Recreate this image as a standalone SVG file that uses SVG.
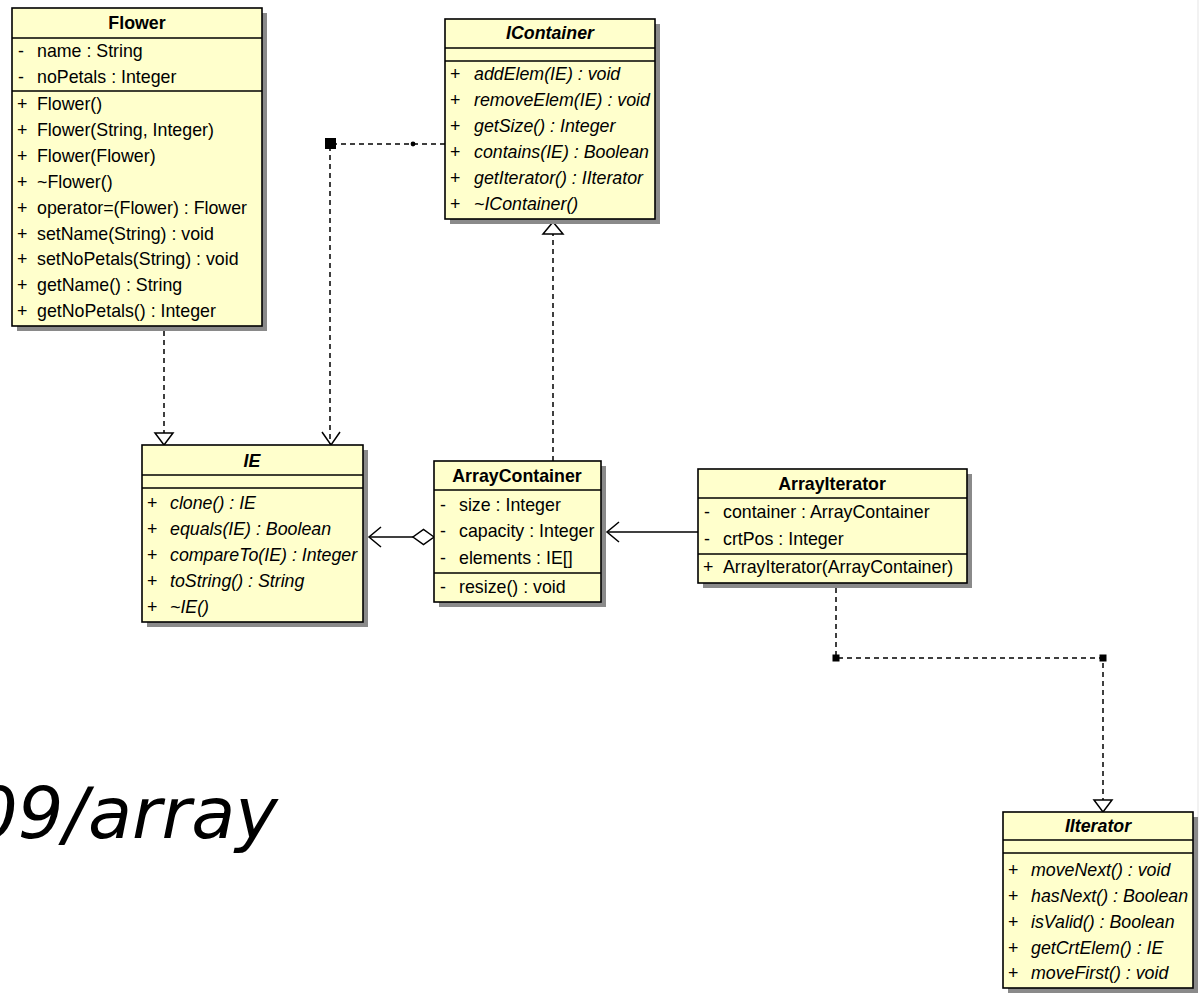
<svg xmlns="http://www.w3.org/2000/svg" width="1200" height="999" viewBox="0 0 1200 999">
<style>
.box{fill:#ffffcc;stroke:#000;stroke-width:1.6}
.shadow{fill:#8a8a8a}
.sep{stroke:#000;stroke-width:1.6}
text{font-family:"Liberation Sans",Arial,sans-serif;font-size:17.8px;fill:#000}
.t{font-weight:bold;text-anchor:middle}
.ti{font-weight:bold;font-style:italic;text-anchor:middle}
.i{font-style:italic}
.dash{fill:none;stroke:#000;stroke-width:1.5;stroke-dasharray:5,4}
.solid{fill:none;stroke:#000;stroke-width:1.5}
.tri{fill:#fff;stroke:#000;stroke-width:1.5}
.big{font-family:"DejaVu Sans",Verdana,sans-serif;font-style:italic;font-size:72px}
</style>
<rect width="1200" height="999" fill="#fff"/>
<line x1="1198" y1="0" x2="1198" y2="930" stroke="#eeeeee" stroke-width="1.5"/>

<g id="connectors">
  <!-- Flower realizes IE -->
  <line class="dash" x1="164" y1="331" x2="164" y2="433"/>
  <polygon class="tri" points="155,433 173,433 164,445"/>
  <!-- IContainer depends on IE -->
  <polyline class="dash" points="445,144 330,144 330,444"/>
  <rect x="325" y="138" width="11" height="11" fill="#000"/>
  <circle cx="413" cy="144" r="2.4" fill="#000"/>
  <polyline class="solid" points="322,432 331,445 340,432"/>
  <!-- ArrayContainer realizes IContainer -->
  <line class="dash" x1="553" y1="461" x2="553" y2="234"/>
  <polygon class="tri" points="543,234 563,234 553,222"/>
  <!-- Aggregation ArrayContainer -> IE -->
  <line class="solid" x1="413" y1="537" x2="369" y2="537"/>
  <polygon class="tri" points="434,537 423.5,529.5 413,537 423.5,544.5"/>
  <polyline class="solid" points="381,527 369,537 381,547"/>
  <!-- Association ArrayIterator -> ArrayContainer -->
  <line class="solid" x1="698" y1="532" x2="607" y2="532"/>
  <polyline class="solid" points="619,522 607,532 619,542"/>
  <!-- ArrayIterator realizes Iterator -->
  <polyline class="dash" points="836,588 836,658 1103,658 1103,800"/>
  <rect x="832.5" y="654.5" width="7" height="7" fill="#000"/>
  <rect x="1099.5" y="654.5" width="7" height="7" fill="#000"/>
  <polygon class="tri" points="1094,800 1112,800 1103,812"/>
</g>

<g id="Flower">
  <rect class="shadow" x="17" y="13" width="250" height="318"/>
  <rect class="box" x="12" y="8" width="250" height="318"/>
  <line class="sep" x1="12" y1="38" x2="262" y2="38"/>
  <line class="sep" x1="12" y1="91" x2="262" y2="91"/>
  <text class="t" x="137" y="29">Flower</text>
  <text x="18" y="57">-</text><text x="37" y="57">name : String</text>
  <text x="18" y="83">-</text><text x="37" y="83">noPetals : Integer</text>
  <text x="17" y="110">+</text><text x="37" y="110">Flower()</text>
  <text x="17" y="136">+</text><text x="37" y="136">Flower(String, Integer)</text>
  <text x="17" y="162">+</text><text x="37" y="162">Flower(Flower)</text>
  <text x="17" y="188">+</text><text x="37" y="188">~Flower()</text>
  <text x="17" y="214">+</text><text x="37" y="214">operator=(Flower) : Flower</text>
  <text x="17" y="240">+</text><text x="37" y="240">setName(String) : void</text>
  <text x="17" y="265">+</text><text x="37" y="265">setNoPetals(String) : void</text>
  <text x="17" y="291">+</text><text x="37" y="291">getName() : String</text>
  <text x="17" y="317">+</text><text x="37" y="317">getNoPetals() : Integer</text>
</g>

<g id="IContainer">
  <rect class="shadow" x="450" y="24" width="210" height="200"/>
  <rect class="box" x="445" y="19" width="210" height="200"/>
  <line class="sep" x1="445" y1="48" x2="655" y2="48"/>
  <line class="sep" x1="445" y1="61" x2="655" y2="61"/>
  <text class="ti" x="550" y="39">IContainer</text>
  <text x="450" y="80">+</text><text class="i" x="474" y="80">addElem(IE) : void</text>
  <text x="450" y="106">+</text><text class="i" x="474" y="106">removeElem(IE) : void</text>
  <text x="450" y="132">+</text><text class="i" x="474" y="132">getSize() : Integer</text>
  <text x="450" y="158">+</text><text class="i" x="474" y="158">contains(IE) : Boolean</text>
  <text x="450" y="184">+</text><text class="i" x="474" y="184">getIterator() : IIterator</text>
  <text x="450" y="210">+</text><text class="i" x="474" y="210">~IContainer()</text>
</g>

<g id="IE">
  <rect class="shadow" x="147" y="450" width="221" height="177"/>
  <rect class="box" x="142" y="445" width="221" height="177"/>
  <line class="sep" x1="142" y1="475" x2="363" y2="475"/>
  <line class="sep" x1="142" y1="488" x2="363" y2="488"/>
  <text class="ti" x="252" y="467">IE</text>
  <text x="147" y="509">+</text><text class="i" x="170" y="509">clone() : IE</text>
  <text x="147" y="535">+</text><text class="i" x="170" y="535">equals(IE) : Boolean</text>
  <text x="147" y="561">+</text><text class="i" x="170" y="561">compareTo(IE) : Integer</text>
  <text x="147" y="587">+</text><text class="i" x="170" y="587">toString() : String</text>
  <text x="147" y="613">+</text><text class="i" x="170" y="613">~IE()</text>
</g>

<g id="ArrayContainer">
  <rect class="shadow" x="439" y="466" width="167" height="141"/>
  <rect class="box" x="434" y="461" width="167" height="141"/>
  <line class="sep" x1="434" y1="490" x2="601" y2="490"/>
  <line class="sep" x1="434" y1="573" x2="601" y2="573"/>
  <text class="t" x="517" y="482">ArrayContainer</text>
  <text x="440" y="511">-</text><text x="459" y="511">size : Integer</text>
  <text x="440" y="537">-</text><text x="459" y="537">capacity : Integer</text>
  <text x="440" y="564">-</text><text x="459" y="564">elements : IE[]</text>
  <text x="440" y="593">-</text><text x="459" y="593">resize() : void</text>
</g>

<g id="ArrayIterator">
  <rect class="shadow" x="703" y="474" width="269" height="114"/>
  <rect class="box" x="698" y="469" width="269" height="114"/>
  <line class="sep" x1="698" y1="498" x2="967" y2="498"/>
  <line class="sep" x1="698" y1="554" x2="967" y2="554"/>
  <text class="t" x="832" y="490">ArrayIterator</text>
  <text x="704" y="518">-</text><text x="723" y="518">container : ArrayContainer</text>
  <text x="704" y="545">-</text><text x="723" y="545">crtPos : Integer</text>
  <text x="703" y="573">+</text><text x="723" y="573">ArrayIterator(ArrayContainer)</text>
</g>

<g id="Iterator">
  <rect class="shadow" x="1008" y="817" width="190" height="176"/>
  <rect class="box" x="1003" y="812" width="190" height="176"/>
  <line class="sep" x1="1003" y1="840" x2="1193" y2="840"/>
  <line class="sep" x1="1003" y1="853" x2="1193" y2="853"/>
  <text class="ti" x="1098" y="832">IIterator</text>
  <text x="1008" y="876">+</text><text class="i" x="1031" y="876">moveNext() : void</text>
  <text x="1008" y="902">+</text><text class="i" x="1031" y="902">hasNext() : Boolean</text>
  <text x="1008" y="928">+</text><text class="i" x="1031" y="928">isValid() : Boolean</text>
  <text x="1008" y="954">+</text><text class="i" x="1031" y="954">getCrtElem() : IE</text>
  <text x="1008" y="979">+</text><text class="i" x="1031" y="979">moveFirst() : void</text>
</g>

<text class="big" x="-28" y="838">09/array</text>
</svg>
